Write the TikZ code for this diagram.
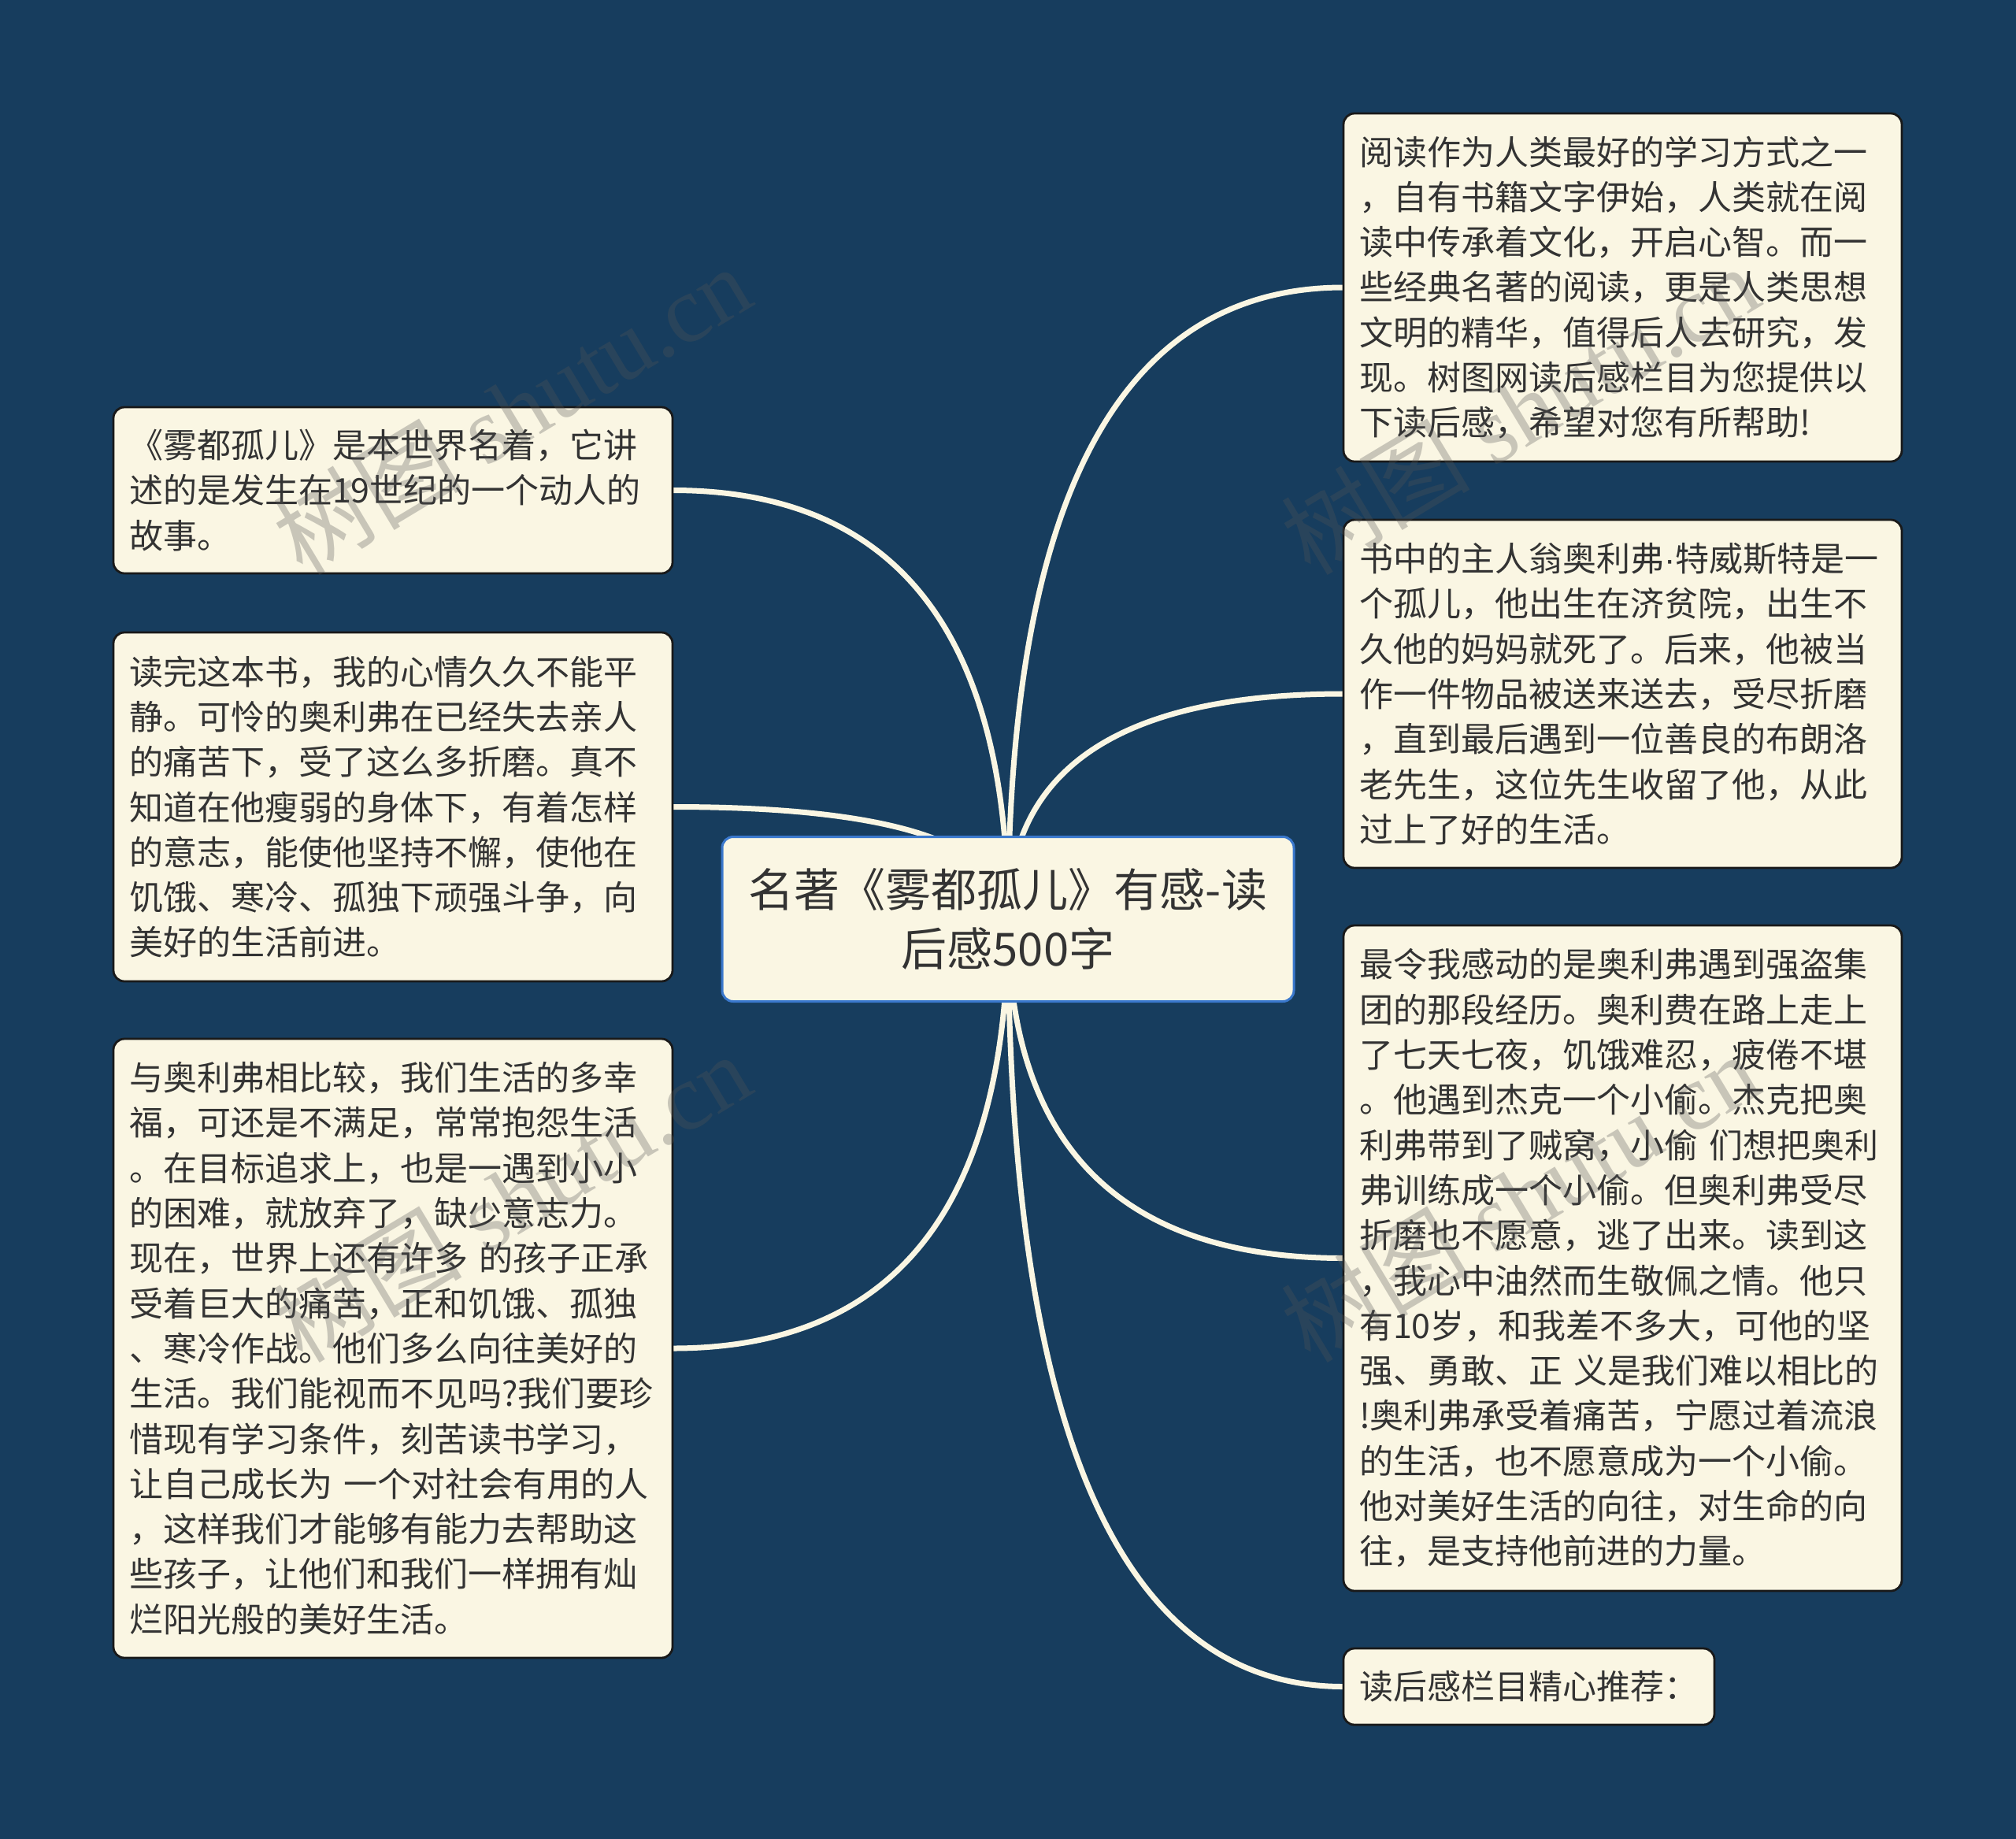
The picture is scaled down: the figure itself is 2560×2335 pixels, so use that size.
\documentclass[tikz,border=0pt]{standalone}
\usepackage{fontspec}
\usetikzlibrary{backgrounds,calc}
\setmainfont{Noto Sans CJK SC}
\newfontfamily\markfont{Liberation Serif}
\newfontfamily\dotfont{Liberation Sans}
\definecolor{boardcolor}{RGB}{23,61,94}
\definecolor{cardcolor}{RGB}{250,246,227}
\definecolor{inkcolor}{RGB}{51,51,51}
\definecolor{rootedge}{RGB}{58,120,205}
\definecolor{markcolor}{RGB}{85,85,85}
\tikzset{
    card/.style 2 args={draw=black!90, line width=1.4pt, fill=cardcolor, rounded corners=7pt,
        anchor=north west, align=left, text=inkcolor, inner xsep=10pt, inner ysep=0pt, outer sep=0pt,
        text width=#1*0.5pt-20pt, minimum height=#2*0.5pt,
        font=\fontsize{21.5pt}{28.65pt}\selectfont},
    roottopic/.style={draw=rootedge, line width=1.5pt, fill=cardcolor, rounded corners=7pt,
        align=center, text=inkcolor, inner sep=0pt, outer sep=0pt,
        minimum width=363pt, minimum height=104.5pt,
        font=\fontsize{29pt}{37.5pt}\selectfont},
    link/.style={draw=cardcolor, line width=3.5pt},
    stamp/.style={rotate=31, text=markcolor, text opacity=0.3, inner sep=0pt,
        font=\fontsize{60pt}{60pt}\markfont}
}

\begin{document}
\begin{tikzpicture}[x=0.5pt, y=-0.5pt]
    \useasboundingbox (0,0) rectangle (2560,2335);

    % Central topic
    \node[roottopic] (root) at (1280,1167) {名著《雾都孤儿》有感-读\\后感500字};

    % Left column
    \node[card={710}{211}] (lefta) at (144,517) {《雾都孤儿》是本世界名着，它讲\\
述的是发生在19世纪的一个动人的\\
故事。};
    \node[card={710}{443}] (leftb) at (144,803) {读完这本书，我的心情久久不能平\\
静。可怜的奥利弗在已经失去亲人\\
的痛苦下，受了这么多折磨。真不\\
知道在他瘦弱的身体下，有着怎样\\
的意志，能使他坚持不懈，使他在\\
饥饿、寒冷、孤独下顽强斗争，向\\
美好的生活前进。};
    \node[card={710}{786}] (leftc) at (144,1319) {与奥利弗相比较，我们生活的多幸\\
福，可还是不满足，常常抱怨生活\\
。在目标追求上，也是一遇到小小\\
的困难，就放弃了，缺少意志力。\\
现在，世界上还有许多 的孩子正承\\
受着巨大的痛苦，正和饥饿、孤独\\
、寒冷作战。他们多么向往美好的\\
生活。我们能视而不见吗?我们要珍\\
惜现有学习条件，刻苦读书学习，\\
让自己成长为 一个对社会有用的人\\
，这样我们才能够有能力去帮助这\\
些孩子，让他们和我们一样拥有灿\\
烂阳光般的美好生活。};

    % Right column
    \node[card={709}{442}] (righta) at (1706,144) {阅读作为人类最好的学习方式之一\\
，自有书籍文字伊始，人类就在阅\\
读中传承着文化，开启心智。而一\\
些经典名著的阅读，更是人类思想\\
文明的精华，值得后人去研究，发\\
现。树图网读后感栏目为您提供以\\
下读后感，希望对您有所帮助!};
    \node[card={709}{442}] (rightb) at (1706,660) {书中的主人翁奥利弗{\dotfont ·}特威斯特是一\\
个孤儿，他出生在济贫院，出生不\\
久他的妈妈就死了。后来，他被当\\
作一件物品被送来送去，受尽折磨\\
，直到最后遇到一位善良的布朗洛\\
老先生，这位先生收留了他，从此\\
过上了好的生活。};
    \node[card={709}{845}] (rightc) at (1706,1175) {最令我感动的是奥利弗遇到强盗集\\
团的那段经历。奥利费在路上走上\\
了七天七夜，饥饿难忍，疲倦不堪\\
。他遇到杰克一个小偷。杰克把奥\\
利弗带到了贼窝，小偷 们想把奥利\\
弗训练成一个小偷。但奥利弗受尽\\
折磨也不愿意，逃了出来。读到这\\
，我心中油然而生敬佩之情。他只\\
有10岁，和我差不多大，可他的坚\\
强、勇敢、正 义是我们难以相比的\\
!奥利弗承受着痛苦，宁愿过着流浪\\
的生活，也不愿意成为一个小偷。\\
他对美好生活的向往，对生命的向\\
往，是支持他前进的力量。};
    \node[card={471}{97}] (rightd) at (1706,2093) {读后感栏目精心推荐：};

    % Board and connectors behind the cards
    \begin{scope}[on background layer]
        \fill[boardcolor] (0,0) rectangle (2560,2335);
        \foreach \leaf/\side in {lefta/east,leftb/east,leftc/east,righta/west,rightb/west,rightc/west,rightd/west} {
            \coordinate (bend) at (root.center |- \leaf.\side);
            \draw[link] (root.center) .. controls ($(root.center)!0.667!(bend)$) and ($(\leaf.\side)!0.667!(bend)$) .. (\leaf.\side);
        }
    \end{scope}

    % Watermarks over everything
    \node[stamp] (marka) at (650,520) {{\setmainfont{Noto Sans CJK SC}树图} shutu.cn};
    \node[stamp] (markb) at (1930,520) {{\setmainfont{Noto Sans CJK SC}树图} shutu.cn};
    \node[stamp] (markc) at (650,1520) {{\setmainfont{Noto Sans CJK SC}树图} shutu.cn};
    \node[stamp] (markd) at (1930,1520) {{\setmainfont{Noto Sans CJK SC}树图} shutu.cn};
\end{tikzpicture}
\end{document}
